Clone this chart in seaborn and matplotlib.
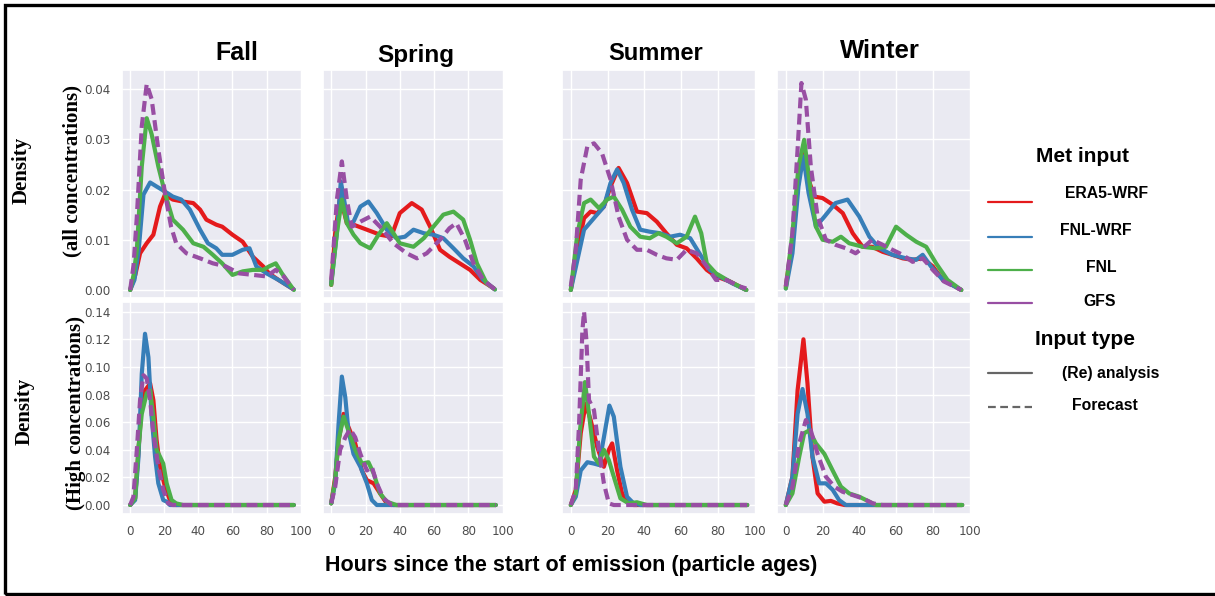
import matplotlib
matplotlib.use("Agg")
import matplotlib.pyplot as plt
from matplotlib.lines import Line2D
from matplotlib.patches import Rectangle
import seaborn as sns
import pandas as pd

# ---- data: (hours, density) pairs ----
seasons = ["Fall", "Spring", "Summer", "Winter"]
met_inputs = ["ERA5-WRF", "FNL-WRF", "FNL", "GFS"]
input_types = ["(Re) analysis", "(Re) analysis", "(Re) analysis", "Forecast"]
x_ticks = [0, 20, 40, 60, 80, 100]
y_ticks_all = [0.00, 0.01, 0.02, 0.03, 0.04]
y_ticks_high = [0.00, 0.02, 0.04, 0.06, 0.08, 0.10, 0.12, 0.14]

# all concentrations
fall_all_era5 = [(0, 0.0), (3, 0.003), (5.8, 0.0073), (9.7, 0.0093), (13.6, 0.011), (17.5, 0.0166), (20.4, 0.019), (25, 0.018), (31, 0.0176), (37, 0.0173), (41, 0.016), (44.7, 0.014), (50.5, 0.013), (54, 0.0126), (60, 0.011), (66, 0.0096), (72, 0.0066), (78, 0.0047), (81.5, 0.0033), (87, 0.002), (95, 0.0003)]
fall_all_fnl_wrf = [(0, 0.0), (2.5, 0.002), (5, 0.008), (7.8, 0.019), (11.7, 0.0214), (15.5, 0.0206), (20.4, 0.0196), (25, 0.0186), (30, 0.018), (35, 0.016), (41, 0.012), (45.6, 0.0093), (50.5, 0.0083), (54, 0.007), (60, 0.007), (66, 0.008), (70, 0.0083), (74, 0.0047), (80, 0.0033), (87, 0.002), (96, 0.0001)]
fall_all_fnl = [(0, 0.0), (2, 0.003), (3.9, 0.008), (6.8, 0.0246), (9.7, 0.0342), (12.6, 0.031), (16.5, 0.0246), (20.4, 0.0193), (25, 0.014), (31, 0.012), (37, 0.0093), (43, 0.0086), (48.5, 0.007), (54, 0.0053), (60, 0.003), (66, 0.0037), (72, 0.004), (78, 0.004), (81.5, 0.0047), (85.4, 0.0053), (89, 0.0033), (96, 0.0)]
fall_all_gfs = [(0, 0.0), (2, 0.005), (3.9, 0.0146), (6.8, 0.0326), (9.7, 0.041), (12.6, 0.038), (16.5, 0.028), (20.4, 0.0193), (24, 0.0126), (27, 0.0093), (33, 0.0073), (41, 0.0063), (48.5, 0.0053), (56, 0.0047), (64, 0.0033), (72, 0.003), (80, 0.0027), (85.4, 0.004), (90, 0.0027), (96, 0.0)]

spring_all_era5 = [(0, 0.001), (2.3, 0.0113), (5.2, 0.0186), (9.1, 0.0133), (13, 0.013), (20.8, 0.012), (28.5, 0.011), (35, 0.0106), (40, 0.0153), (47, 0.0173), (52.8, 0.016), (57.7, 0.0126), (63.5, 0.008), (69, 0.0066), (75, 0.0053), (81, 0.004), (87, 0.002), (95, 0.0003)]
spring_all_fnl_wrf = [(0, 0.0013), (3.3, 0.0113), (5.6, 0.0216), (8.2, 0.0166), (10, 0.013), (13, 0.0136), (17, 0.0166), (21.7, 0.0176), (26.6, 0.0153), (32.4, 0.012), (38, 0.0103), (43, 0.0106), (48, 0.012), (54, 0.0113), (59.6, 0.011), (65.4, 0.0103), (71.3, 0.0083), (77, 0.0063), (83, 0.0047), (88.7, 0.002), (95.5, 0.0001)]
spring_all_fnl = [(0, 0.001), (3.3, 0.0113), (6.2, 0.018), (9.1, 0.0133), (13, 0.011), (17, 0.0093), (22.7, 0.0083), (27.6, 0.011), (32.4, 0.0133), (36.3, 0.0113), (40, 0.0093), (48, 0.0086), (54, 0.0103), (59.6, 0.0126), (65.4, 0.015), (71.3, 0.0156), (77, 0.014), (81, 0.01), (85, 0.0053), (90.7, 0.0013), (95.5, 0.0001)]
spring_all_gfs = [(0, 0.002), (3.3, 0.018), (6.2, 0.0256), (9.1, 0.018), (12, 0.0126), (17, 0.0136), (22.7, 0.0146), (28.5, 0.0126), (36.3, 0.0093), (44, 0.0073), (50, 0.0063), (55.7, 0.0073), (63.5, 0.01), (69, 0.0123), (73, 0.0133), (78, 0.01), (83, 0.0053), (88.7, 0.002), (95.5, 0.0001)]

summer_all_era5 = [(0, 0.0), (3.6, 0.008), (7.2, 0.0143), (10.8, 0.0156), (14.4, 0.0153), (18, 0.0166), (21.6, 0.0206), (26, 0.0243), (30.6, 0.0213), (36, 0.0156), (41.4, 0.0153), (46.8, 0.0136), (52, 0.0113), (57.7, 0.009), (63, 0.0083), (68.5, 0.0063), (74, 0.004), (79, 0.0027), (86.5, 0.0017), (95.5, 0.0)]
summer_all_fnl_wrf = [(0, 0.0), (3.6, 0.006), (7.2, 0.012), (12.6, 0.0143), (18, 0.0166), (21.6, 0.0213), (25.2, 0.024), (28.8, 0.0213), (33.3, 0.016), (37.8, 0.012), (43, 0.0116), (48.6, 0.0113), (54, 0.0106), (59.5, 0.011), (65, 0.0103), (70, 0.0073), (75.7, 0.004), (81, 0.0027), (88, 0.0013), (95.5, 0.0)]
summer_all_fnl = [(0, 0.0), (3.6, 0.0113), (7.2, 0.0173), (10.8, 0.018), (15.3, 0.0163), (19.8, 0.018), (23.4, 0.0186), (27.9, 0.016), (32.4, 0.0126), (37.8, 0.0106), (43, 0.0103), (47.7, 0.0113), (52, 0.0106), (57.7, 0.0093), (63, 0.0106), (67.6, 0.0146), (71, 0.0113), (74, 0.0053), (79, 0.0033), (86.5, 0.0017), (95.5, 0.0)]
summer_all_gfs = [(0, 0.0007), (2.7, 0.008), (5.4, 0.022), (9, 0.0286), (12.6, 0.0292), (17, 0.0272), (21.6, 0.022), (26, 0.0146), (30.6, 0.01), (36, 0.008), (41.4, 0.008), (46.8, 0.007), (52, 0.0063), (57.7, 0.006), (63, 0.008), (68.5, 0.0073), (74, 0.0047), (79, 0.002), (84.7, 0.002), (91.9, 0.0007), (95.5, 0.0003)]

winter_all_era5 = [(0, 0.0007), (3.6, 0.01), (7.3, 0.0233), (9.5, 0.0286), (11.8, 0.0226), (15.5, 0.0186), (20, 0.0183), (25.5, 0.017), (31, 0.0153), (36.4, 0.0113), (41.8, 0.0086), (47, 0.0086), (52.7, 0.0076), (58, 0.007), (63.6, 0.0063), (69, 0.006), (74.5, 0.0063), (80, 0.0047), (85.5, 0.002), (95.5, 0.0)]
winter_all_fnl_wrf = [(0, 0.0003), (3.6, 0.0073), (6.9, 0.0206), (9.5, 0.0266), (12.4, 0.0193), (16.4, 0.0126), (21, 0.0146), (27, 0.0173), (33.6, 0.018), (40, 0.0146), (45.5, 0.0106), (51, 0.0083), (58, 0.007), (65.5, 0.0063), (70.9, 0.006), (74.5, 0.007), (79, 0.0047), (85.5, 0.002), (95.5, 0.0)]
winter_all_fnl = [(0, 0.0003), (3.6, 0.0113), (6.9, 0.0246), (10, 0.0299), (13, 0.0213), (16.4, 0.0126), (20, 0.01), (25.5, 0.0096), (30, 0.0106), (34.5, 0.0093), (41.8, 0.0086), (49, 0.0083), (54.5, 0.0086), (60, 0.0126), (65.5, 0.011), (71, 0.0096), (76.4, 0.0086), (81.8, 0.0053), (88, 0.002), (95.5, 0.0)]
winter_all_gfs = [(0, 0.0007), (3.6, 0.0113), (6.4, 0.028), (8.5, 0.0412), (10.9, 0.0379), (13.6, 0.0246), (17.3, 0.0146), (21.8, 0.01), (27, 0.009), (32.7, 0.0083), (38, 0.0073), (42.7, 0.0086), (47, 0.01), (52.7, 0.009), (58, 0.008), (63.6, 0.007), (69, 0.0056), (74.5, 0.0063), (80, 0.004), (86, 0.0017), (95.5, 0.0)]

# high concentrations
fall_high_era5 = [(0, 0.0), (2.9, 0.0048), (4.9, 0.04), (6.8, 0.0735), (8.7, 0.083), (11.7, 0.088), (13.6, 0.076), (15.5, 0.047), (17.5, 0.0277), (20.4, 0.0133), (23.3, 0.0036), (27, 0.0), (96, 0.0)]
fall_high_fnl_wrf = [(0, 0.0), (2.9, 0.0036), (4.9, 0.035), (6.8, 0.095), (8.7, 0.124), (10.7, 0.107), (12.6, 0.064), (14.6, 0.035), (16.5, 0.0157), (19.4, 0.0036), (21.4, 0.0024), (23.3, 0.0), (96, 0.0)]
fall_high_fnl = [(0, 0.0), (2.9, 0.0048), (4.9, 0.042), (6.8, 0.066), (9.7, 0.081), (11.7, 0.083), (13.6, 0.064), (15.5, 0.04), (17.5, 0.035), (19.4, 0.03), (21.4, 0.0157), (24.3, 0.0036), (27, 0.0012), (31, 0.0), (96, 0.0)]
fall_high_gfs = [(0, 0.0), (1.9, 0.006), (3.9, 0.04), (5.8, 0.076), (7.8, 0.094), (9.7, 0.0916), (11.7, 0.076), (13.6, 0.052), (16.5, 0.0277), (19.4, 0.011), (22.3, 0.0012), (25, 0.0), (96, 0.0)]

spring_high_era5 = [(0, 0.0012), (2.3, 0.02), (4.3, 0.047), (7.2, 0.066), (10, 0.0566), (14, 0.0446), (17.9, 0.025), (20.8, 0.018), (24.7, 0.0157), (28.5, 0.0084), (32.4, 0.0012), (36.3, 0.0), (96, 0.0)]
spring_high_fnl_wrf = [(0, 0.0012), (2.3, 0.0157), (4.3, 0.059), (6.2, 0.093), (8.2, 0.078), (10, 0.054), (13, 0.037), (17, 0.0277), (20.8, 0.0157), (23.7, 0.0036), (26.6, 0.0), (96, 0.0)]
spring_high_fnl = [(0, 0.0012), (2.3, 0.018), (4.3, 0.047), (7.2, 0.064), (10, 0.054), (14, 0.04), (17.9, 0.03), (21.7, 0.031), (24.7, 0.023), (28.5, 0.0084), (32.4, 0.0024), (38, 0.0), (96, 0.0)]
spring_high_gfs = [(0, 0.0012), (2.3, 0.013), (5.2, 0.04), (8.2, 0.049), (11, 0.055), (14, 0.049), (17, 0.037), (20.8, 0.025), (23.7, 0.0277), (26.6, 0.0157), (30.5, 0.0048), (35.3, 0.0), (96, 0.0)]

summer_high_era5 = [(0, 0.0), (2.7, 0.011), (5.4, 0.052), (8.1, 0.0735), (10.8, 0.0615), (14.4, 0.042), (18, 0.0277), (20.7, 0.04), (22.5, 0.0446), (25.2, 0.025), (27.9, 0.0084), (31.5, 0.0012), (34.2, 0.0), (96, 0.0)]
summer_high_fnl_wrf = [(0, 0.0), (2.7, 0.006), (5.4, 0.025), (9, 0.031), (12.6, 0.03), (15.3, 0.029), (18, 0.049), (21, 0.072), (23.4, 0.064), (27, 0.0277), (30.6, 0.006), (34.2, 0.0012), (37.8, 0.0), (96, 0.0)]
summer_high_fnl = [(0, 0.0), (2.7, 0.0084), (5, 0.054), (7.7, 0.089), (9.9, 0.066), (12.6, 0.035), (15.3, 0.03), (18, 0.04), (20.7, 0.0325), (23.4, 0.0205), (27, 0.0048), (31.5, 0.0012), (36, 0.002), (41.4, 0.0), (96, 0.0)]
summer_high_gfs = [(0, 0.0), (2.7, 0.011), (4.5, 0.059), (6.3, 0.1265), (7.2, 0.14), (8.5, 0.119), (9.9, 0.076), (12.6, 0.0687), (15.3, 0.04), (18, 0.0157), (20.7, 0.0012), (23.4, 0.0), (96, 0.0)]

winter_high_era5 = [(0, 0.0), (3.6, 0.0205), (6.4, 0.083), (9.6, 0.12), (11.8, 0.088), (14.5, 0.035), (17.3, 0.0084), (21, 0.0024), (24.5, 0.003), (28, 0.0012), (32, 0.0), (96, 0.0)]
winter_high_fnl_wrf = [(0, 0.0), (3.6, 0.0205), (6.4, 0.066), (9.1, 0.084), (11.8, 0.066), (14.5, 0.035), (18.2, 0.0157), (21.8, 0.0157), (25.5, 0.011), (29, 0.0036), (32.7, 0.0), (96, 0.0)]
winter_high_fnl = [(0, 0.0), (3.6, 0.0084), (7.3, 0.035), (10, 0.052), (12.7, 0.054), (16.4, 0.0446), (21, 0.037), (25.5, 0.025), (30, 0.0133), (34.5, 0.0084), (40, 0.006), (45.5, 0.0024), (49, 0.0), (96, 0.0)]
winter_high_gfs = [(0, 0.0), (3.6, 0.013), (7.3, 0.0446), (10.9, 0.0615), (13.6, 0.054), (17.3, 0.037), (21.8, 0.0205), (26.4, 0.0133), (30.9, 0.0096), (36.4, 0.0072), (41.8, 0.0048), (47.3, 0.0012), (52.7, 0.0), (96, 0.0)]

curves = {
    ("all", "Fall"): [fall_all_era5, fall_all_fnl_wrf, fall_all_fnl, fall_all_gfs],
    ("all", "Spring"): [spring_all_era5, spring_all_fnl_wrf, spring_all_fnl, spring_all_gfs],
    ("all", "Summer"): [summer_all_era5, summer_all_fnl_wrf, summer_all_fnl, summer_all_gfs],
    ("all", "Winter"): [winter_all_era5, winter_all_fnl_wrf, winter_all_fnl, winter_all_gfs],
    ("high", "Fall"): [fall_high_era5, fall_high_fnl_wrf, fall_high_fnl, fall_high_gfs],
    ("high", "Spring"): [spring_high_era5, spring_high_fnl_wrf, spring_high_fnl, spring_high_gfs],
    ("high", "Summer"): [summer_high_era5, summer_high_fnl_wrf, summer_high_fnl, summer_high_gfs],
    ("high", "Winter"): [winter_high_era5, winter_high_fnl_wrf, winter_high_fnl, winter_high_gfs],
}

rows = []
for (conc, season), lists in curves.items():
    for met, itype, pts in zip(met_inputs, input_types, lists):
        for h, d in pts:
            rows.append({"conc": conc, "season": season, "met": met,
                         "type": itype, "hours": h, "density": d})
df = pd.DataFrame(rows)

# ---- style ----
sns.set_theme(style="darkgrid")
palette = {"ERA5-WRF": "#e41a1c", "FNL-WRF": "#377eb8", "FNL": "#4daf4a", "GFS": "#984ea3"}
dashes = {"(Re) analysis": "", "Forecast": (2.6, 1.3)}

W, H = 1215, 596
fig = plt.figure(figsize=(W / 100, H / 100), dpi=100)

def fx(px):
    return px / W

def fy(py):
    return 1 - py / H

col_px = [(122, 302), (323, 504), (562, 756), (777, 971)]
row_px = {"all": (70, 298), "high": (302, 514)}
ylims = {"all": (-0.0016, 0.0438), "high": (-0.0065, 0.147)}
yticks = {"all": y_ticks_all, "high": y_ticks_high}

for conc in ["all", "high"]:
    top, bot = row_px[conc]
    for i, season in enumerate(seasons):
        left, right = col_px[i]
        ax = fig.add_axes([fx(left), fy(bot), fx(right - left), (bot - top) / H])
        sub = df[(df["conc"] == conc) & (df["season"] == season)]
        sns.lineplot(data=sub, x="hours", y="density", hue="met", hue_order=met_inputs,
                     palette=palette, style="type", style_order=["(Re) analysis", "Forecast"],
                     dashes=dashes, lw=3, estimator=None, legend=False, ax=ax)
        ax.set_xlim(-4.8, 100.8)
        ax.set_ylim(*ylims[conc])
        ax.set_xticks(x_ticks)
        ax.set_yticks(yticks[conc])
        ax.set_xlabel("")
        ax.set_ylabel("")
        ax.tick_params(labelsize=9.5, colors="0.3", pad=2)
        if conc == "all":
            ax.set_xticklabels([])
        else:
            ax.set_xticklabels([str(t) for t in x_ticks])
        if i == 0:
            ax.set_yticklabels([f"{t:.2f}" for t in yticks[conc]])
        else:
            ax.set_yticklabels([])
        for lab in ax.get_xticklabels() + ax.get_yticklabels():
            lab.set_fontstretch("condensed")

# ---- season titles ----
title_pos = [(236.5, 60, 18), (415.5, 62, 17.5), (656, 60, 17), (880, 58, 18.5)]
for season, (x, y, fs) in zip(seasons, title_pos):
    fig.text(fx(x), fy(y), season, ha="center", va="baseline", fontsize=fs,
             fontweight="bold", family="Liberation Sans", color="black")

# ---- y labels (serif, bold) ----
serif = dict(rotation=90, ha="center", va="center", fontsize=15,
             fontweight="bold", family="Liberation Serif", color="black")
fig.text(fx(22), fy(170), "Density", **serif)
fig.text(fx(72), fy(171), "(all concentrations)", **serif)
fig.text(fx(25), fy(411), "Density", **serif)
fig.text(fx(76), fy(413), "(High concentrations)", **serif)

# ---- x label ----
fig.text(fx(571), fy(565), "Hours since the start of emission (particle ages)",
         ha="center", va="center", fontsize=15.5, fontweight="bold",
         family="Liberation Sans", color="black")

# ---- legend ----
bold_sans = dict(fontweight="bold", family="Liberation Sans", color="black")
fig.text(fx(1082), fy(162), "Met input", ha="center", va="baseline", fontsize=15, **bold_sans)
fig.text(fx(1085), fy(345), "Input type", ha="center", va="baseline", fontsize=15, **bold_sans)

legend_entries = [
    ("ERA5-WRF", palette["ERA5-WRF"], "-", 202, 1065, 198),
    ("FNL-WRF", palette["FNL-WRF"], "-", 237, 1060, 235),
    ("FNL", palette["FNL"], "-", 270, 1086, 272),
    ("GFS", palette["GFS"], "-", 303, 1083, 306),
    ("(Re) analysis", "#666666", "-", 373, 1062, 378),
    ("Forecast", "#666666", (0, (3.5, 2)), 407, 1072, 410),
]
for label, color, ls, ly, tx, ty in legend_entries:
    fig.add_artist(Line2D([fx(988), fx(1032)], [fy(ly), fy(ly)], color=color,
                          lw=1.6, ls=ls, transform=fig.transFigure))
    fig.text(fx(tx), fy(ty), label, ha="left", va="baseline", fontsize=11.3, **bold_sans)

# ---- outer frame ----
fig.add_artist(Rectangle((fx(5), fy(594)), fx(1260 - 5), (594 - 5) / H, fill=False,
                         ec="black", lw=2.4, transform=fig.transFigure, clip_on=False))

fig.savefig("out.png", dpi=100, facecolor="white")
